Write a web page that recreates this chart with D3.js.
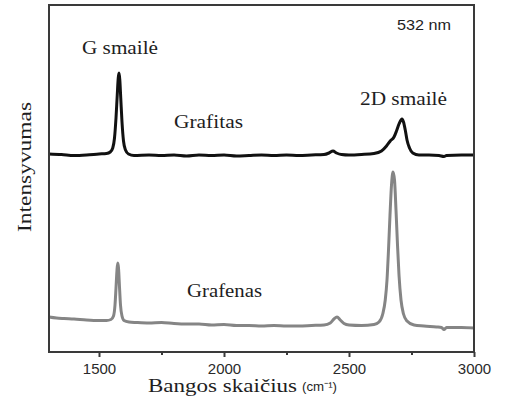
<!DOCTYPE html>
<html>
<head>
<meta charset="utf-8">
<script src="https://cdn.jsdelivr.net/npm/d3@7"></script>
<style>
  html, body { margin: 0; padding: 0; background: #fff; }
  svg { display: block; }
</style>
</head>
<body>
<script>
// Raman spectra: wavenumber (cm⁻¹) and intensity (a.u.)
const grafitasWavenumber = [1300,1350,1400,1450,1500,1530,1545,1555,1562,1568,1573,1577,1580,1583,1587,1592,1598,1606,1618,1640,1700,1750,1800,1850,1900,1950,2000,2050,2100,2150,2200,2250,2300,2350,2400,2420,2436,2450,2470,2500,2550,2600,2630,2650,2665,2680,2690,2700,2712,2718,2725,2732,2742,2755,2780,2820,2860,2880,2890,2950,3000];
const grafitasIntensity  = [198,197.5,196.5,197,198,198.5,200,204,214,234,257,274,279,273,254,230,211,202,198,196.5,197,196.5,197,196,197,196.5,197,196,196.5,197,196.5,197,196.5,197,197.5,199,201,199,197.5,197,197.5,198.5,201,206,211,215,221,228,233,230,222,212,204,199,197,197,196.5,195.5,196.5,197,197];

const grafenasWavenumber = [1300,1330,1360,1400,1450,1500,1530,1548,1558,1564,1568,1572,1575,1578,1582,1586,1592,1600,1620,1650,1700,1750,1800,1850,1900,1950,2000,2050,2100,2150,2200,2250,2300,2350,2400,2425,2440,2452,2465,2480,2500,2550,2600,2620,2635,2645,2652,2658,2664,2670,2676,2682,2688,2694,2700,2708,2718,2732,2760,2800,2850,2870,2880,2890,2950,3000];
const grafenasIntensity  = [35,34,33.5,33,32,31.5,31.5,32.5,36,47,64,82,89,84,65,47,36,31.5,30,29.5,29,29.5,28.5,28,28,27,27.5,26.5,26.5,26,26.5,26,26,26.5,27,29,33,35,32,28.5,27,26.5,27.5,30,38,52,72,102,137,167,180,172,142,107,77,52,38,31,27,26,25,24.5,22.5,24.5,24.5,24];

const xMajorTicks = [1500, 2000, 2500, 3000];
const xMinorTicks = [1750, 2250, 2750];

const W = 508, H = 402;
const plot = { left: 49, top: 5, right: 474, bottom: 352 };

const svg = d3.select("body").append("svg")
  .attr("width", W).attr("height", H);

const x = d3.scaleLinear().domain([1300, 3000]).range([plot.left, plot.right]);
const y = d3.scaleLinear().domain([0, 347]).range([plot.bottom, plot.top]);

const serif = "'Liberation Serif', 'Times New Roman', serif";
const sans = "'Liberation Sans', Arial, sans-serif";

// spectra
const line = d3.line().x(d => x(d[0])).y(d => y(d[1])).curve(d3.curveMonotoneX);
const series = [
  { w: grafenasWavenumber, v: grafenasIntensity, color: "#858585" },
  { w: grafitasWavenumber, v: grafitasIntensity, color: "#111111" }
];
series.forEach(s => {
  svg.append("path")
    .datum(s.w.map((w, i) => [w, s.v[i]]))
    .attr("fill", "none")
    .attr("stroke", s.color)
    .attr("stroke-width", 3)
    .attr("stroke-linejoin", "round")
    .attr("d", line);
});

// frame
svg.append("rect")
  .attr("x", plot.left).attr("y", plot.top)
  .attr("width", plot.right - plot.left).attr("height", plot.bottom - plot.top)
  .attr("fill", "none").attr("stroke", "#3a3a3a").attr("stroke-width", 2);

// x axis with outward ticks
const axis = svg.append("g")
  .attr("transform", `translate(0,${plot.bottom})`)
  .call(d3.axisBottom(x).tickValues(xMajorTicks).tickSize(5).tickPadding(6).tickFormat(d3.format("d")));
axis.select(".domain").remove();
axis.selectAll(".tick line").attr("stroke", "#3a3a3a").attr("stroke-width", 2);
axis.selectAll(".tick text")
  .attr("font-family", sans).attr("font-size", 15).attr("fill", "#2a2a2a");

const minor = svg.append("g")
  .attr("transform", `translate(0,${plot.bottom})`)
  .call(d3.axisBottom(x).tickValues(xMinorTicks).tickSize(3).tickFormat(""));
minor.select(".domain").remove();
minor.selectAll(".tick line").attr("stroke", "#3a3a3a").attr("stroke-width", 2);

// annotations
function label(txt, px, py, size, len, family) {
  return svg.append("text")
    .attr("x", px).attr("y", py)
    .attr("font-family", family || serif)
    .attr("font-size", size)
    .attr("fill", "#1e1e1e")
    .attr("textLength", len)
    .attr("lengthAdjust", "spacingAndGlyphs")
    .text(txt);
}
label("G smailė", 82, 54, 19, 76);
label("Grafitas", 174, 128, 19, 69);
label("2D smailė", 360, 105, 19, 87);
label("Grafenas", 187, 297, 19, 75);
label("532 nm", 397, 30, 14.5, 54, sans);

// axis titles
label("Bangos skaičius", 148, 392, 19, 149);
svg.append("text")
  .attr("x", 302).attr("y", 391)
  .attr("font-family", sans).attr("font-size", 13)
  .attr("fill", "#1e1e1e")
  .attr("textLength", 35).attr("lengthAdjust", "spacingAndGlyphs")
  .text("(cm⁻¹)");

svg.append("text")
  .attr("transform", "translate(31,232) rotate(-90)")
  .attr("font-family", serif).attr("font-size", 19)
  .attr("fill", "#1e1e1e")
  .attr("textLength", 130).attr("lengthAdjust", "spacingAndGlyphs")
  .text("Intensyvumas");
</script>
</body>
</html>
